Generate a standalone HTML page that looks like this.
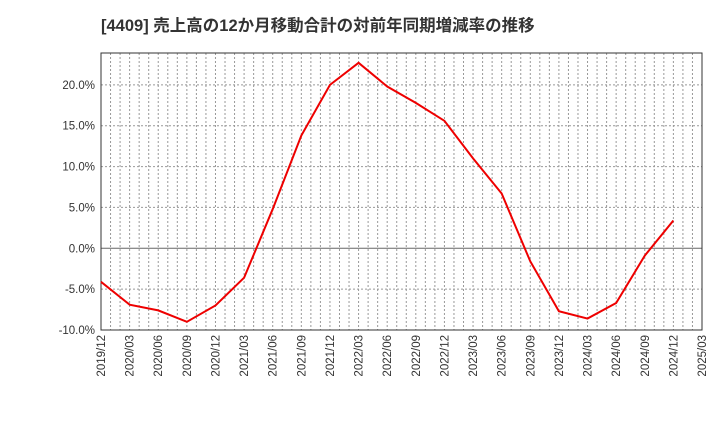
<!DOCTYPE html>
<html><head><meta charset="utf-8"><style>
body{margin:0;background:#fff;}
svg text{font-family:"Liberation Sans","Noto Sans CJK JP",sans-serif;}
</style></head><body>
<svg id="chart" width="720" height="440" xmlns="http://www.w3.org/2000/svg">
<text x="101" y="31" font-size="16.5" font-weight="bold" fill="#333">[4409]  売上高の12か月移動合計の対前年同期増減率の推移</text>
<g id="grid"></g><g id="axes"></g><g id="series"></g>
</svg>
<script>
const categories=["2019/12","2020/03","2020/06","2020/09","2020/12","2021/03","2021/06","2021/09","2021/12","2022/03","2022/06","2022/09","2022/12","2023/03","2023/06","2023/09","2023/12","2024/03","2024/06","2024/09","2024/12"];
const values=[-4.1,-6.9,-7.6,-9.0,-7.0,-3.6,4.8,13.8,20.0,22.7,19.8,17.8,15.6,11.0,6.7,-1.6,-7.7,-8.6,-6.7,-0.9,3.4];
const xTickLabels=["2019/12","2020/03","2020/06","2020/09","2020/12","2021/03","2021/06","2021/09","2021/12","2022/03","2022/06","2022/09","2022/12","2023/03","2023/06","2023/09","2023/12","2024/03","2024/06","2024/09","2024/12","2025/03"];
const yTicks=[-10,-5,0,5,10,15,20];
const L=101,R=702,T=53,B=330,yMin=-10,yMax=23.9;
const nQ=xTickLabels.length-1;
const x=i=>L+(R-L)*i/nQ;
const y=v=>B-(v-yMin)/(yMax-yMin)*(B-T);
const NS="http://www.w3.org/2000/svg";
function mk(p,t,a){const e=document.createElementNS(NS,t);for(const k in a)e.setAttribute(k,a[k]);p.appendChild(e);return e;}
const g=document.getElementById('grid'),ax=document.getElementById('axes'),s=document.getElementById('series');
for(let m=1;m<nQ*3;m++){const xx=L+(R-L)*m/(nQ*3);
const ln=mk(g,'line',{x1:xx,x2:xx,y1:T,y2:B,stroke:'#999','stroke-dasharray':'2,2','stroke-width':1});

}
yTicks.forEach(v=>{const yy=y(v);
const ln=mk(g,'line',{x1:L,x2:R,y1:yy,y2:yy,stroke:v===0?'#666':'#999','stroke-dasharray':v===0?'none':'2,2','stroke-width':1});


const t=mk(ax,'text',{x:L-6,y:yy+4,'text-anchor':'end','font-size':11.5,fill:'#333'});t.textContent=v.toFixed(1)+'%';

});
const fr=mk(ax,'rect',{x:L,y:T,width:R-L,height:B-T,fill:'none',stroke:'#333','stroke-width':1});


xTickLabels.forEach((lab,i)=>{const xx=x(i);
const t=mk(ax,'text',{x:0,y:0,'text-anchor':'end','font-size':11.5,fill:'#333',transform:`translate(${xx+4},${B+5}) rotate(-90)`});t.textContent=lab;

});
const pl=mk(s,'polyline',{points:values.map((v,i)=>x(i)+','+y(v)).join(' '),fill:'none',stroke:'#e00','stroke-width':2});


</script>
</body></html>
